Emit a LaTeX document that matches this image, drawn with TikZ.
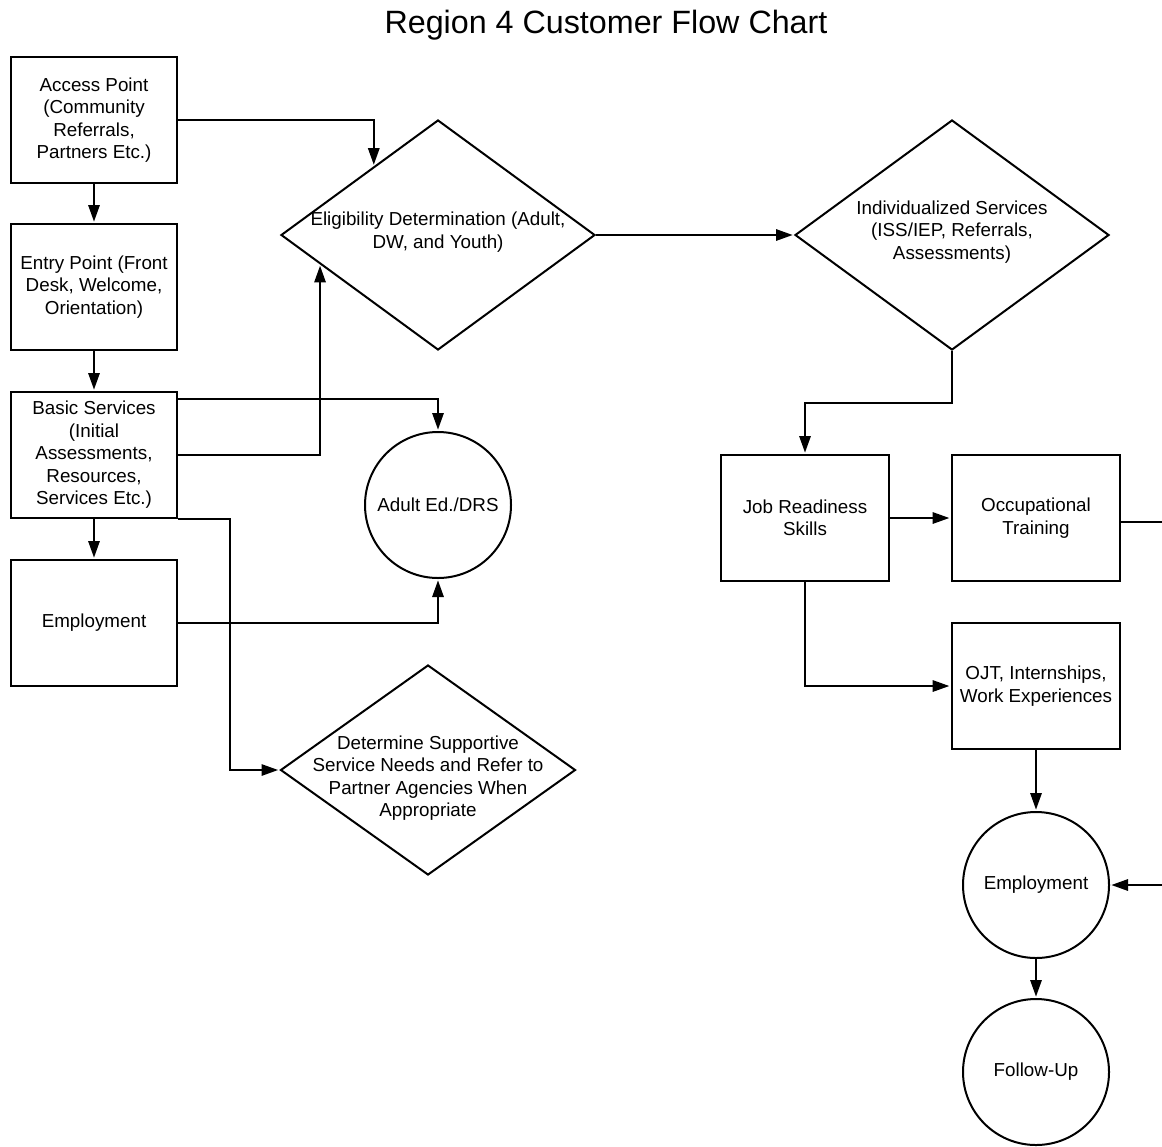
\documentclass[tikz,border=0pt]{standalone}
\usepackage{fontspec}
\setmainfont{Liberation Sans}
\usetikzlibrary{shapes.geometric,arrows.meta}
\begin{document}
\begin{tikzpicture}[x=0.75pt,y=-0.75pt,
  every node/.style={font=\fontsize{14.1pt}{16.9pt}\selectfont, align=center},
  shp/.style={draw, line width=1.5pt, inner sep=0pt},
  box/.style={shp, rectangle, minimum width=124.5pt, minimum height=94.5pt},
  rbox/.style={shp, rectangle, minimum width=126.5pt, minimum height=94.5pt},
  dia/.style={shp, diamond},
  circ/.style={shp, circle, minimum size=109.5pt},
  conn/.style={line width=1.5pt, -{Triangle[length=12.5pt,width=8.5pt]}, shorten >=1pt},
  plain/.style={line width=1.5pt}
]
\useasboundingbox (0,0) rectangle (1162,1146);

\node[font=\fontsize{24.2pt}{28pt}\selectfont] (title) at (606,25) {Region 4 Customer Flow Chart};

\node[box] (A) at (94,120) {Access Point\\(Community\\Referrals,\\Partners Etc.)};
\node[box] (B) at (94,287) {Entry Point (Front\\Desk, Welcome,\\Orientation)};
\node[box] (C) at (94,455) {Basic Services\\(Initial\\Assessments,\\Resources,\\Services Etc.)};
\node[box] (D) at (94,623) {Employment};

\node[dia, minimum width=235.5pt, minimum height=172.5pt] (E) at (438,235) {};
\node (Et) at (438,232) {Eligibility Determination (Adult,\\DW, and Youth)};

\node[dia, minimum width=235.5pt, minimum height=172.5pt] (F) at (952,235) {};
\node (Ft) at (952,232) {Individualized Services\\(ISS/IEP, Referrals,\\Assessments)};

\node[circ] (G) at (438,505) {Adult Ed./DRS};

\node[dia, minimum width=221.25pt, minimum height=157.5pt] (H) at (428,770) {};
\node (Ht) at (428,778) {Determine Supportive\\Service Needs and Refer to\\Partner Agencies When\\Appropriate};

\node[rbox] (I) at (805,518) {Job Readiness\\Skills};
\node[rbox] (J) at (1036,518) {Occupational\\Training};
\node[rbox] (K) at (1036,686) {OJT, Internships,\\Work Experiences};

\node[circ] (L) at (1036,885) {Employment};
\node[circ] (M) at (1036,1072) {Follow-Up};

% connectors
\draw[conn] (A.east) -| (E.133);
\draw[conn] (A.south) -- (B.north);
\draw[conn] (B.south) -- (C.north);
\draw[conn] ([yshift=-6pt]C.north east) -| (G.north);
\draw[conn] (C.east) -| (E.194);
\draw[conn] (C.south) -- (D.north);
\draw[conn] (C.south east) -- ++(52,0) |- (H.west);
\draw[conn] (D.east) -| (G.south);
\draw[conn] (E.east) -- (F.west);
\draw[conn] (F.south) -- ++(0,52) -| (I.north);
\draw[conn] (I.east) -- (J.west);
\draw[conn] (I.south) |- (K.west);
\draw[conn] (K.south) -- (L.north);
\draw[conn] ([yshift=-3pt]J.east) -- ++(43,0) |- (L.east);
\draw[conn] (L.south) -- (M.north);
\end{tikzpicture}
\end{document}
